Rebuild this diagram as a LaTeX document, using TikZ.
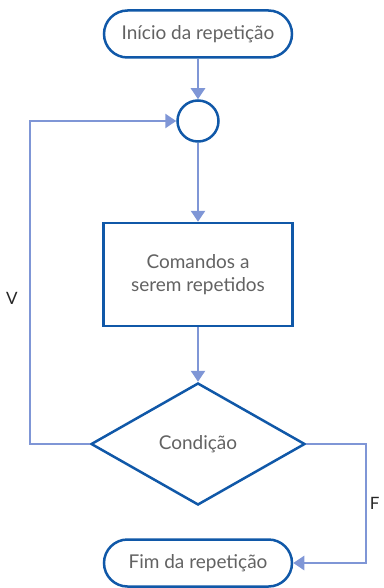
\documentclass[tikz,border=0pt]{standalone}
\usepackage{fontspec}
\setmainfont{Lato}
\usetikzlibrary{shapes.geometric,arrows.meta}
\definecolor{nodeblue}{HTML}{1058A8}
\definecolor{connblue}{HTML}{7F96D6}
\definecolor{txtgray}{HTML}{626262}
\tikzset{
  base/.style={draw=nodeblue, line width=2.5pt, text=txtgray, font=\fontsize{19}{23}\selectfont, inner sep=0pt},
  term/.style={base, rectangle, rounded corners=23.5pt, minimum width=188pt, minimum height=47pt},
  joint/.style={base, circle, minimum size=41pt},
  cmdbox/.style={base, rectangle, minimum width=189pt, minimum height=103pt, align=center},
  cond/.style={base, diamond, aspect=1.75, minimum width=214pt, minimum height=122pt},
  conn/.style={draw=connblue, line width=2.5pt, -{Triangle[width=14pt,length=11pt]}},
  lbl/.style={text=black!85, font=\fontsize{17}{20}\selectfont}
}
\begin{document}
\begin{tikzpicture}[x=1pt,y=-1pt]
\useasboundingbox (0,0) rectangle (383,588);
\node[term] (start) at (198,34) {Início da repetição};
\node[joint] (circ) at (198,121) {};
\node[cmdbox] (cmd) at (198,274.5) {Comandos a\\serem repetidos};
\node[cond] (dia) at (198,444) {Condição};
\node[term] (fim) at (198,563) {Fim da repetição};
\coordinate (lc) at (30,444);
\coordinate (rc) at (366,444);
\draw[conn] (start) -- (circ);
\draw[conn] (circ) -- (cmd);
\draw[conn] (cmd) -- (dia);
\draw[conn] (dia.west) -- (lc) |- (circ.west);
\draw[conn] (dia.east) -- (rc) |- (fim.east);
\node[lbl] (v) at (12,298) {V};
\node[lbl, anchor=east] (f) at (383,503) {F};
\end{tikzpicture}
\end{document}
